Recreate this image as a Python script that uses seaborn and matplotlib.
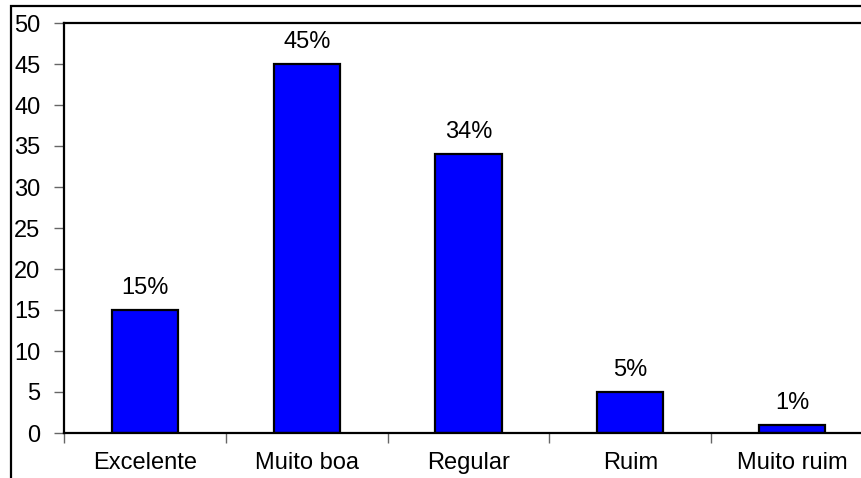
import matplotlib
matplotlib.use("Agg")
import matplotlib.pyplot as plt
import seaborn as sns
import pandas as pd
from matplotlib.patches import Rectangle
from matplotlib.ticker import FixedLocator

categories = ["Excelente", "Muito boa", "Regular", "Ruim", "Muito ruim"]
values = [15, 45, 34, 5, 1]
yticks = list(range(0, 51, 5))

sns.set_style("white")
plt.rcParams['font.family'] = ['Liberation Sans', 'DejaVu Sans']
plt.rcParams['text.color'] = 'black'
plt.rcParams['xtick.color'] = 'black'
plt.rcParams['ytick.color'] = 'black'

FS = 17
W, H = 861, 478
fig = plt.figure(figsize=(W / 100, H / 100), dpi=100)
ax = fig.add_axes([64 / W, 45 / H, 809 / W, 410 / H])

df = pd.DataFrame({"cat": categories, "val": values})
sns.barplot(data=df, x="cat", y="val", ax=ax, color="#0000FF", saturation=1,
            width=0.41, edgecolor="black", linewidth=1.6)

ax.set_xlim(-0.5, len(categories) - 0.5)
ax.set_ylim(0, 50)
ax.set_yticks(yticks)
ax.set_xlabel("")
ax.set_ylabel("")

for s in ax.spines.values():
    s.set_color("black")
    s.set_linewidth(1.6)
    s.set_visible(True)

ax.tick_params(axis="y", which="major", length=7, width=1, color="#666666",
               labelcolor="black", direction="out", labelsize=FS, pad=10, left=True)
ax.tick_params(axis="x", which="major", length=0, labelsize=FS, pad=14,
               labelcolor="black")
ax.xaxis.set_minor_locator(FixedLocator([i - 0.5 for i in range(len(categories) + 1)]))
ax.tick_params(axis="x", which="minor", length=7, width=1, color="#666666",
               direction="out", bottom=True)

for c in ax.containers:
    ax.bar_label(c, labels=[f"{v}%" for v in values], padding=8, fontsize=FS,
                 color="black")

border = Rectangle((11 / W, -0.1), 1.2, (H - 6) / H + 0.1,
                   transform=fig.transFigure, fill=False, edgecolor="black",
                   linewidth=1.6, clip_on=False)
fig.add_artist(border)

fig.savefig("out.png", dpi=100)
